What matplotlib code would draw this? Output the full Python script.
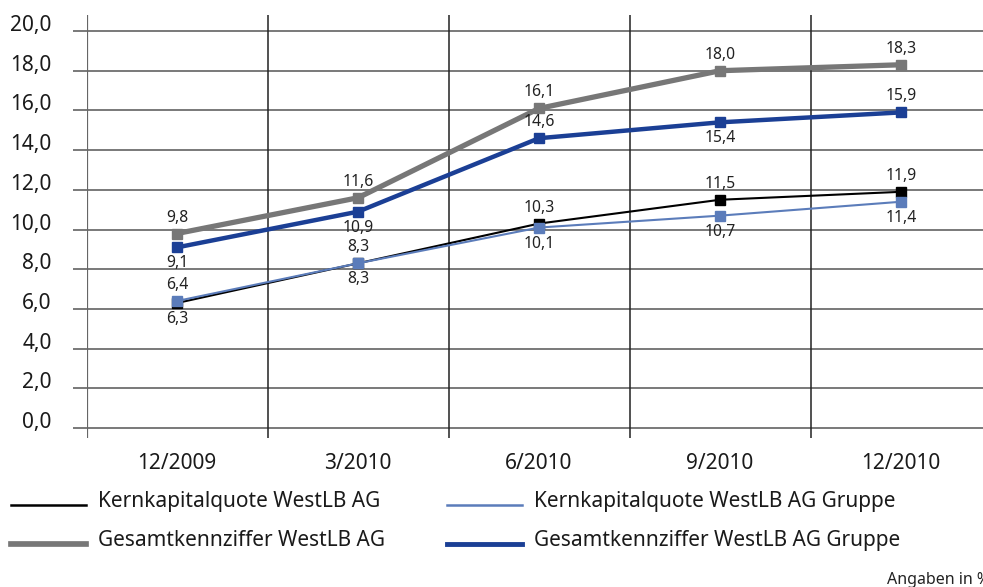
import matplotlib.pyplot as plt
from matplotlib.lines import Line2D

plt.rcParams['font.family'] = ['Noto Sans', 'DejaVu Sans']

# data
quarters = ['12/2009', '3/2010', '6/2010', '9/2010', '12/2010']
kern_ag = [6.3, 8.3, 10.3, 11.5, 11.9]
kern_gruppe = [6.4, 8.3, 10.1, 10.7, 11.4]
gesamt_ag = [9.8, 11.6, 16.1, 18.0, 18.3]
gesamt_gruppe = [9.1, 10.9, 14.6, 15.4, 15.9]
y_ticks = [0, 2, 4, 6, 8, 10, 12, 14, 16, 18, 20]

# label side per point: 1 = above, -1 = below
sides = {
    'kern_ag': [-1, -1, 1, 1, 1],
    'kern_gruppe': [1, 1, -1, -1, -1],
    'gesamt_ag': [1, 1, 1, 1, 1],
    'gesamt_gruppe': [-1, -1, 1, -1, 1],
}

series = [
    ('Kernkapitalquote WestLB AG', kern_ag, '#000000', 1.5, 'kern_ag'),
    ('Kernkapitalquote WestLB AG Gruppe', kern_gruppe, '#5b7cba', 1.5, 'kern_gruppe'),
    ('Gesamtkennziffer WestLB AG', gesamt_ag, '#777777', 3.8, 'gesamt_ag'),
    ('Gesamtkennziffer WestLB AG Gruppe', gesamt_gruppe, '#1b3f95', 3.2, 'gesamt_gruppe'),
]

W, H = 983, 587
fig = plt.figure(figsize=(W / 100, H / 100), dpi=100)
ax = fig.add_axes([86.5 / W, (H - 438) / H, 905 / W, (438 - 15) / H])
ax.set_xlim(-0.5, 4.5)
ax.set_ylim(-0.5, 20 + 16 / 19.85)
for s in ax.spines.values():
    s.set_visible(False)

# grid
ax.hlines(y_ticks, -0.572, 4.5, color='#555555', lw=1.1, clip_on=False, zorder=1)
bounds = [i - 0.5 for i in range(len(quarters) + 1)]
ax.vlines(bounds, -0.5, 20 + 16 / 19.85, color='#222222', lw=1.1, zorder=1)
ax.vlines(bounds[0], -0.5, 20 + 16 / 19.85, color='#666666', lw=1.6, zorder=1)

x = list(range(len(quarters)))
for name, vals, col, lw, key in series:
    ax.plot(x, vals, color=col, lw=lw, marker='s', ms=7, mec=col, mfc=col, zorder=3)
    for xi, v, sd in zip(x, vals, sides[key]):
        label = f'{v:.1f}'.replace('.', ',')
        ax.annotate(label, (xi, v), xytext=(0, 16 * sd), textcoords='offset pixels',
                    ha='center', va='center', fontsize=11.3, color='#222222')

ax.set_xticks(x)
ax.set_xticklabels(quarters, fontsize=15, color='#1a1a1a')
ax.set_yticks(y_ticks)
ax.set_yticklabels([f'{t:.1f}'.replace('.', ',') for t in y_ticks], fontsize=15, color='#1a1a1a')
for lab in ax.get_yticklabels():
    lab.set_va('baseline')
ax.tick_params(axis='both', length=0)
ax.tick_params(axis='y', pad=25)
ax.tick_params(axis='x', pad=11)

# legend drawn by hand
leg_pos = [(11, 505), (447, 505), (11, 544), (447, 544)]
for (name, vals, col, lw, key), (lx, ly) in zip(series, leg_pos):
    fig.add_artist(Line2D([lx / W, (lx + 75) / W], [(H - ly) / H] * 2, color=col, lw=lw + 0.3))
    fig.text((lx + 87) / W, (H - ly - 2) / H, name, fontsize=15, color='#1a1a1a',
             ha='left', va='baseline')

fig.text(887 / W, (H - 572) / H, 'Angaben in %', fontsize=11.5, color='#222222',
         ha='left', va='top')

fig.savefig('out.png', dpi=100)
